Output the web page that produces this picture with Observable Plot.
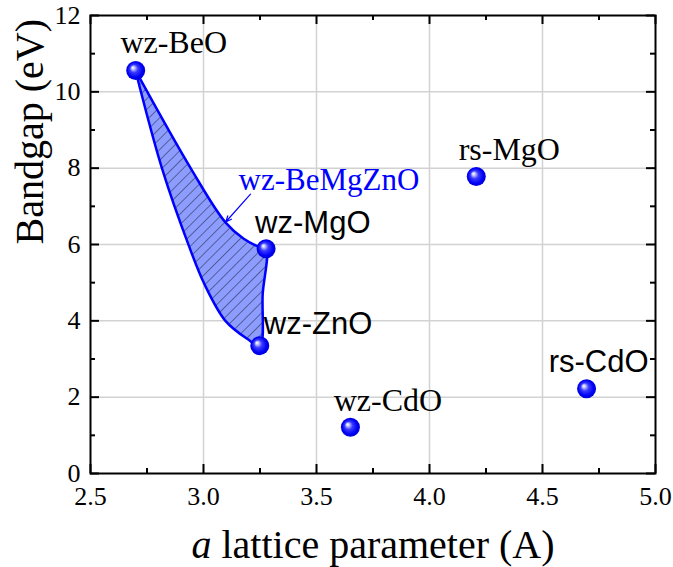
<!DOCTYPE html>
<html>
<head>
<meta charset="utf-8">
<script src="https://cdn.jsdelivr.net/npm/d3@7"></script>
<script src="https://cdn.jsdelivr.net/npm/@observablehq/plot@0.6"></script>
<style>
  html, body { margin: 0; padding: 0; background: #fff; }
  #chart svg { display: block; }
</style>
</head>
<body>
<div id="chart"></div>
<script>
// ---- data ----
const names   = ["wz-BeO", "wz-MgO", "wz-ZnO", "wz-CdO", "rs-CdO", "rs-MgO"];
const lattice = [2.70, 3.277, 3.249, 3.65, 4.695, 4.207];   // a (A)
const bandgap = [10.56, 5.89, 3.35, 1.21, 2.22, 7.78];      // eV

// outline of the wz-BeMgZnO alloy region (BeO -> MgO -> ZnO -> BeO)
const regionA  = [2.699, 2.945, 3.097, 3.178, 3.250, 3.277, 3.262, 3.249, 3.193, 3.097, 3.005, 2.935, 2.817, 2.699];
const regionEg = [10.56, 7.98, 6.58, 6.15, 5.93, 5.89, 4.71, 3.35, 3.53, 4.00, 4.95, 5.97, 7.98, 10.56];

const alloyName = "wz-BeMgZnO";
const arrowFrom = [3.208, 7.32];
const arrowTo   = [3.098, 6.59];

const xMajor = [2.5, 3.0, 3.5, 4.0, 4.5, 5.0];
const xMinor = [2.75, 3.25, 3.75, 4.25, 4.75];
const yMajor = [0, 2, 4, 6, 8, 10, 12];
const yMinor = [1, 3, 5, 7, 9, 11];
const xGrid = [3.0, 3.5, 4.0, 4.5];
const yGrid = [2, 4, 6, 8, 10];
const xTickLabels = ["2.5", "3.0", "3.5", "4.0", "4.5", "5.0"];
const yTickLabels = ["0", "2", "4", "6", "8", "10", "12"];

const xTitle = "a lattice parameter (A)";
const yTitle = "Bandgap (eV)";

// ---- build tables ----
const points = names.map((n, i) => ({name: n, a: lattice[i], eg: bandgap[i]}));
const region = regionA.map((a, i) => ({a, eg: regionEg[i]}));
const arrowRow = [{x1: arrowFrom[0], y1: arrowFrom[1], x2: arrowTo[0], y2: arrowTo[1]}];
const xLab = xMajor.map((v, i) => ({v, t: xTickLabels[i]}));
const yLab = yMajor.map((v, i) => ({v, t: yTickLabels[i]}));

const SERIF = "'Liberation Serif', 'Times New Roman', serif";
const SANS = "'Liberation Sans', Arial, sans-serif";

// frame size (for inward tick insets)
const W = 673, H = 567, ML = 90, MR = 18, MT = 15, MB = 94;
const FW = W - ML - MR, FH = H - MT - MB;
const MAJ = 9, MIN = 5;

// label placement relative to each sphere (styling, not data)
const labelStyle = {
  "wz-BeO": {font: SERIF, size: 32, anchor: "middle", dx: 38, dy: -17.5},
  "wz-MgO": {font: SANS,  size: 31, anchor: "start",  dx: -11, dy: -16},
  "wz-ZnO": {font: SANS,  size: 31, anchor: "start",  dx: 4,   dy: -12},
  "wz-CdO": {font: SERIF, size: 32, anchor: "middle", dx: 37.5, dy: -16.5},
  "rs-CdO": {font: SANS,  size: 31, anchor: "middle", dx: 12,  dy: -16.5},
  "rs-MgO": {font: SERIF, size: 32, anchor: "middle", dx: 33,  dy: -17}
};

const labelMarks = points.map(p => {
  const s = labelStyle[p.name];
  return Plot.text([p], {
    x: "a", y: "eg", text: "name",
    dx: s.dx, dy: s.dy, textAnchor: s.anchor, lineAnchor: "bottom",
    fontFamily: s.font, fontSize: s.size, fill: "black"
  });
});

const tk = {stroke: "black", strokeWidth: 2};

const chart = Plot.plot({
  width: W,
  height: H,
  marginLeft: ML,
  marginRight: MR,
  marginTop: MT,
  marginBottom: MB,
  x: {domain: [2.5, 5.0], axis: null},
  y: {domain: [0, 12], axis: null},
  style: {fontFamily: SERIF, fontSize: "26px", color: "black", background: "white", overflow: "visible"},
  marks: [
    Plot.gridX(xGrid, {stroke: "#d2d2d2", strokeOpacity: 1, strokeWidth: 1.5}),
    Plot.gridY(yGrid, {stroke: "#d2d2d2", strokeOpacity: 1, strokeWidth: 1.5}),
    Plot.line(region, {x: "a", y: "eg", curve: "catmull-rom", fill: "url(#hatch)", stroke: "#0000ff", strokeWidth: 2.5}),
    Plot.arrow(arrowRow, {x1: "x1", y1: "y1", x2: "x2", y2: "y2", stroke: "#0000ff", strokeWidth: 1.2, headLength: 8, headAngle: 45}),
    // inward ticks, all four sides
    Plot.tickX(xMajor, {x: d => d, insetTop: FH - MAJ, ...tk}),
    Plot.tickX(xMinor, {x: d => d, insetTop: FH - MIN, ...tk}),
    Plot.tickX(xMajor, {x: d => d, insetBottom: FH - MAJ, ...tk}),
    Plot.tickX(xMinor, {x: d => d, insetBottom: FH - MIN, ...tk}),
    Plot.tickY(yMajor, {y: d => d, insetRight: FW - MAJ, ...tk}),
    Plot.tickY(yMinor, {y: d => d, insetRight: FW - MIN, ...tk}),
    Plot.tickY(yMajor, {y: d => d, insetLeft: FW - MAJ, ...tk}),
    Plot.tickY(yMinor, {y: d => d, insetLeft: FW - MIN, ...tk}),
    Plot.frame({stroke: "black", strokeWidth: 2}),
    // tick labels
    Plot.text(xLab, {x: "v", text: "t", frameAnchor: "bottom", dy: 13.5, lineAnchor: "top",
      fontFamily: SERIF, fontSize: 26, fill: "black"}),
    Plot.text(yLab, {y: "v", text: "t", frameAnchor: "left", dx: -10, textAnchor: "end", lineAnchor: "middle",
      fontFamily: SERIF, fontSize: 26, fill: "black"}),
    // spheres
    Plot.dot(points, {x: "a", y: "eg", r: 9.5, fill: "url(#ball)", stroke: "none"}),
    // labels
    ...labelMarks,
    Plot.text(arrowRow, {x: "x1", y: "y1", text: () => alloyName, dx: -12, dy: -4, textAnchor: "start", lineAnchor: "bottom",
      fontFamily: SERIF, fontSize: 31, fill: "#0000ff"}),
    // axis titles
    Plot.text([xTitle], {frameAnchor: "bottom", text: d => d, dy: 84, lineAnchor: "bottom", fontFamily: SERIF, fontSize: 40, fill: "black"}),
    Plot.text([yTitle], {frameAnchor: "left", text: d => d, rotate: -90, dx: -48, lineAnchor: "bottom", fontFamily: SERIF, fontSize: 40, fill: "black"})
  ]
});

// defs: sphere shading and hatching
d3.select(chart).insert("defs", ":first-child").html(`
  <radialGradient id="ball" cx="0.5" cy="0.5" r="0.5" fx="0.34" fy="0.34">
    <stop offset="0" stop-color="#ffffff"/>
    <stop offset="0.12" stop-color="#d8dcff"/>
    <stop offset="0.42" stop-color="#3a3aff"/>
    <stop offset="0.8" stop-color="#0000f5"/>
    <stop offset="1" stop-color="#0000d8"/>
  </radialGradient>
  <pattern id="hatch" patternUnits="userSpaceOnUse" width="7.5" height="7.5" patternTransform="rotate(45)">
    <rect width="7.5" height="7.5" fill="#8c9cff"/>
    <line x1="0" y1="0" x2="0" y2="7.5" stroke="#202030" stroke-width="1"/>
  </pattern>
`);

// italic "a" in the x title
d3.select(chart).selectAll("text").each(function() {
  if (this.textContent === xTitle) {
    const t = d3.select(this);
    t.text("");
    t.append("tspan").attr("font-style", "italic").text("a");
    t.append("tspan").text(" lattice parameter (A)");
  }
});

document.getElementById("chart").appendChild(chart);
</script>
</body>
</html>
